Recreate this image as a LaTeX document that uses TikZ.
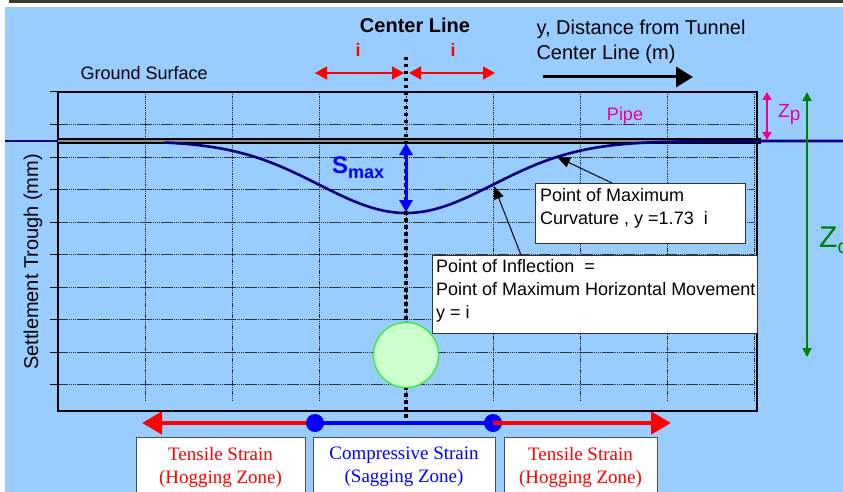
\documentclass[tikz,border=0pt]{standalone}
\usepackage{fontspec}
\setmainfont{Liberation Serif}
\setsansfont{Liberation Sans}
\usetikzlibrary{arrows.meta,calc,positioning}
\definecolor{skyback}{HTML}{99CCFF}
\definecolor{navyline}{HTML}{000080}
\definecolor{tunfill}{HTML}{CCFFCC}
\definecolor{tunedge}{HTML}{33EE33}
\definecolor{zogreen}{HTML}{008000}
\definecolor{photostrip}{HTML}{3A3A2A}
\newcommand{\fsz}[2]{\fontsize{#1}{#2}\selectfont}
\newcommand{\zonebox}[5]{\node[zone,text=#4,minimum width=#3] (#1) at (#2,467) {#5};}

\begin{document}
\begin{tikzpicture}[x=1pt,y=-1pt,>=Stealth,font=\sffamily,
  gridv/.style={black!85,line width=0.9pt,dash pattern=on 1.3pt off 0.9pt},
  gridh/.style={black!80,line width=1pt,dash pattern=on 1.6pt off 0.5pt},
  info/.style={draw=black!80,fill=white,line width=1.2pt,inner sep=0pt,anchor=north west},
  infotext/.style={anchor=north west,align=left,inner sep=0pt,font=\sffamily\fsz{18}{23}},
  zone/.style={draw=black!70,fill=white,line width=1pt,minimum height=59pt,align=center,font=\rmfamily\fsz{19}{23}},
  dot/.style={circle,fill=blue,minimum size=18pt,inner sep=0pt},
  redtip/.style={red,line width=1.4pt,{Triangle[length=12pt,width=13pt]}-{Triangle[length=12pt,width=13pt]}}]
\useasboundingbox (0,0) rectangle (843,492);
\fill[white] (0,0) rectangle (843,492);
\fill[photostrip] (9,0) rectangle (843,3.5);
\fill[skyback] (5,7) rectangle (843,492);

% chart grid
\foreach \gy in {124.5,157,189.5,222,254.5,287,319.5,352,384.5}
  \draw[gridh] (58,\gy) -- (754,\gy);
\foreach \gx in {145,232,...,754}
  \draw[gridv] (\gx,92) -- (\gx,402);
\foreach \gy in {92,124.5,157,189.5,222,254.5,287,319.5,352,384.5}
  \draw[line width=1pt] (50,\gy) -- (58,\gy);
\draw[line width=1.4pt] (58,92) rectangle (757,411);

% pipe and trough
\draw[line width=5.5pt] (58,141) -- (761,141);
\draw[line width=1.6pt,black!45] (58,141) -- (761,141);
\draw[navyline,line width=2.6pt] (5,141) -- (58,141);
\draw[navyline,line width=2.6pt] plot[domain=165:843,samples=150,smooth]
  (\x,{141+72*exp(-0.5*((\x-406)/87)^2)});

% strain zones
\node[dot] (hogl) at (315,423) {};
\node[dot] (hogr) at (493,423) {};
\coordinate (leftend) at (142,423);
\coordinate (rightend) at (671,423);
\draw[blue,line width=4.5pt] (hogl.center) -- (hogr.center);
\draw[red,line width=4.5pt,-{Triangle[length=20pt,width=22pt]}] (hogl.west) -- (leftend);
\draw[red,line width=4.5pt,-{Triangle[length=20pt,width=22pt]}] (hogr.center) -- (rightend);
\zonebox{hogleft}{220.5}{169pt}{red}{Tensile Strain\\(Hogging Zone)}
\zonebox{sagmid}{404}{182pt}{blue}{Compressive Strain\\(Sagging Zone)}
\zonebox{hogright}{580.5}{153pt}{red}{Tensile Strain\\(Hogging Zone)}

% center line and tunnel
\coordinate (cltop) at (406,57);
\coordinate (clbot) at (406,421);
\draw[line width=3.5pt,dash pattern=on 3.5pt off 3.5pt] (cltop) -- (clbot);
\node[circle,draw=tunedge,fill=tunfill,line width=1.3pt,minimum size=65pt,inner sep=0pt] (tunnel) at (406,355) {};

% top labels
\node[font=\sffamily\bfseries\fsz{20}{24}] (cltitle) at (415,25) {Center Line};
\node[red,font=\sffamily\bfseries\fsz{18}{22}] (ileft) at (358,50) {i};
\node[red,font=\sffamily\bfseries\fsz{18}{22}] (iright) at (453,50) {i};
\coordinate (ila) at (315,73);
\coordinate (ilb) at (404,73);
\coordinate (ira) at (409,73);
\coordinate (irb) at (495,73);
\draw[redtip] (ila) -- (ilb);
\draw[redtip] (ira) -- (irb);
\node[anchor=west,font=\sffamily\fsz{18}{22}] (ground) at (77,73) {Ground Surface};
\node[anchor=west,align=left,font=\sffamily\fsz{20}{25}] (ytext) at (533,42) {y, Distance from Tunnel\\Center Line (m)};
\coordinate (yaxa) at (543,77);
\coordinate (yaxb) at (693,77);
\draw[line width=3pt,-{Triangle[length=17pt,width=20pt]}] (yaxa) -- (yaxb);
\node[rotate=90,font=\sffamily\fsz{20}{24}] (ylabel) at (33,262) {Settlement Trough (mm)};

% depths
\node[magenta,font=\sffamily\fsz{18}{20}] (pipe) at (625,116) {Pipe};
\coordinate (zpa) at (767,92);
\coordinate (zpb) at (767,140);
\draw[magenta,line width=1.5pt,{Triangle[length=8pt,width=9pt]}-{Triangle[length=8pt,width=9pt]}] (zpa) -- (zpb);
\node[magenta,anchor=west,inner sep=0pt,font=\sffamily\fsz{19}{22}] (zp) at (778,114) {Z\raisebox{-3pt}{p}};
\coordinate (zoa) at (807,92);
\coordinate (zob) at (807,357);
\draw[zogreen,line width=2pt,{Triangle[length=9pt,width=9pt]}-{Triangle[length=9pt,width=9pt]}] (zoa) -- (zob);
\node[zogreen,anchor=west,inner sep=0pt,font=\sffamily\fsz{30}{34}] (zo) at (819,240) {Z\raisebox{-6pt}{\fsz{20}{20}o}};

% maximum settlement
\node[blue,anchor=base west,inner sep=0pt,font=\sffamily\bfseries] (smax) at (332,173) {\fsz{24}{26}S\raisebox{-5pt}{\fsz{18}{20}max}};
\coordinate (sa) at (406,143);
\coordinate (sb) at (406,212);
\draw[blue,line width=3pt,{Triangle[length=12pt,width=13pt]}-{Triangle[length=12pt,width=13pt]}] (sa) -- (sb);

% call-outs
\coordinate (curvpt) at (557,157);
\coordinate (inflpt) at (494,186);
\node[info,minimum width=210pt,minimum height=60pt] (curvbox) at (535,183) {};
\node[infotext] (curvtext) at ($(curvbox.north west)+(5,5)$) {Point of Maximum\\Curvature , y =1.73~ i};
\draw[line width=1pt,-{Triangle[length=13pt,width=10pt]}] ($(curvbox.north west)+(77,0)$) -- (curvpt);
\node[info,minimum width=325pt,minimum height=78pt] (inflbox) at (432,255) {};
\node[infotext] (infltext) at ($(inflbox.north west)+(4,4)$) {Point of Inflection~ =\\Point of Maximum Horizontal Movement\\y = i};
\draw[line width=1pt,-{Triangle[length=13pt,width=10pt]}] ($(inflbox.north west)+(89,0)$) -- (inflpt);
\end{tikzpicture}
\end{document}
